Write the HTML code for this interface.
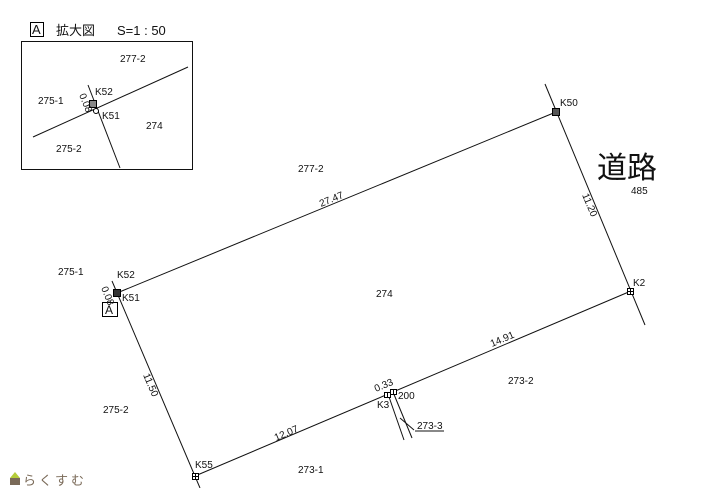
<!DOCTYPE html>
<html><head><meta charset="utf-8"><style>
html,body{margin:0;padding:0;background:#fff;}
svg{display:block;}
text{font-family:"Liberation Sans Narrow","Liberation Sans",sans-serif;font-size:10px;fill:#111;}
.j{font-family:"Liberation Sans","Noto Sans CJK JP",sans-serif;}
</style></head><body>
<svg width="704" height="488" viewBox="0 0 704 488" xmlns="http://www.w3.org/2000/svg">
<g stroke="#111" stroke-width="1" fill="none">
<!-- inset -->
<rect x="21.5" y="41.5" width="171" height="128"/>
<line x1="33" y1="137" x2="188" y2="67"/>
<line x1="88" y1="85" x2="120" y2="168"/>
<!-- main -->
<line x1="117" y1="293" x2="556" y2="112"/>
<line x1="545" y1="84" x2="645" y2="325"/>
<line x1="112" y1="281" x2="200" y2="488"/>
<line x1="195" y1="476" x2="631" y2="291"/>
<line x1="388" y1="394" x2="404" y2="440"/>
<line x1="393" y1="392" x2="412" y2="438"/>
<line x1="400" y1="418" x2="414" y2="430"/>
<line x1="415" y1="431" x2="444" y2="431"/>
</g>
<!-- markers -->
<g stroke="#000" stroke-width="1" fill="#fff">
<rect x="89.5" y="100.5" width="7" height="7" fill="#888"/>
<circle cx="96" cy="111" r="2.5"/>
<rect x="113.5" y="289.5" width="7" height="7" fill="#333"/>
<rect x="552.5" y="108.5" width="7" height="7" fill="#555"/>
<rect x="627.5" y="288.5" width="6" height="6"/><line x1="630.5" y1="288.5" x2="630.5" y2="294.5"/><line x1="627.5" y1="291.5" x2="633.5" y2="291.5"/>
<rect x="192.5" y="473.5" width="6" height="6"/><line x1="195.5" y1="473.5" x2="195.5" y2="479.5"/><line x1="192.5" y1="476.5" x2="198.5" y2="476.5"/>
<rect x="384.5" y="392.5" width="6" height="5"/><line x1="387.5" y1="392.5" x2="387.5" y2="397.5"/>
<rect x="390.5" y="389.5" width="6" height="5"/><line x1="393.5" y1="389.5" x2="393.5" y2="394.5"/>
</g>
<!-- A boxes -->
<rect x="30.5" y="22.5" width="13" height="14" fill="none" stroke="#000"/>
<text x="32" y="34" style="font-size:13px;font-family:'Liberation Sans',sans-serif">A</text>
<text class="j" x="56" y="35" style="font-size:13px">拡大図</text>
<text x="117" y="35" style="font-size:13px;font-family:'Liberation Sans',sans-serif">S=1 : 50</text>
<rect x="102.5" y="302.5" width="15" height="14" fill="#fff" stroke="#000"/>
<text x="105" y="314" style="font-size:12px;font-family:'Liberation Sans',sans-serif">A</text>
<!-- inset labels -->
<text x="120" y="62">277-2</text>
<text x="38" y="104">275-1</text>
<text x="95" y="95">K52</text>
<text x="102" y="119">K51</text>
<text x="146" y="129">274</text>
<text x="56" y="152">275-2</text>
<text transform="translate(79,95) rotate(68)">0.08</text>
<!-- main labels -->
<text x="298" y="172">277-2</text>
<text transform="translate(321,207) rotate(-22.4)">27.47</text>
<text x="560" y="106">K50</text>
<text class="j" x="597" y="178" style="font-size:30px">道路</text>
<text x="631" y="194">485</text>
<text transform="translate(582,195) rotate(67.3)">11.20</text>
<text x="633" y="286">K2</text>
<text x="58" y="275">275-1</text>
<text x="117" y="278">K52</text>
<text x="122" y="301">K51</text>
<text transform="translate(101,288) rotate(68)">0.08</text>
<text x="376" y="297">274</text>
<text transform="translate(143,375) rotate(67)">11.50</text>
<text x="103" y="413">275-2</text>
<text transform="translate(276,441) rotate(-23)">12.07</text>
<text transform="translate(492,347) rotate(-23)">14.91</text>
<text x="508" y="384">273-2</text>
<text transform="translate(376,392) rotate(-23)">0.33</text>
<text x="398" y="399">200</text>
<text x="377" y="408">K3</text>
<text x="417" y="429">273-3</text>
<text x="195" y="468">K55</text>
<text x="298" y="473">273-1</text>
<!-- logo -->
<polygon points="10,478 15,472 20,478" fill="#b5cc3a"/>
<rect x="10" y="478" width="10" height="7" fill="#7a6a58"/>
<text class="j" x="23" y="485" style="font-size:13px;fill:#7a6a58;letter-spacing:3px">らくすむ</text>
</svg>
</body></html>
